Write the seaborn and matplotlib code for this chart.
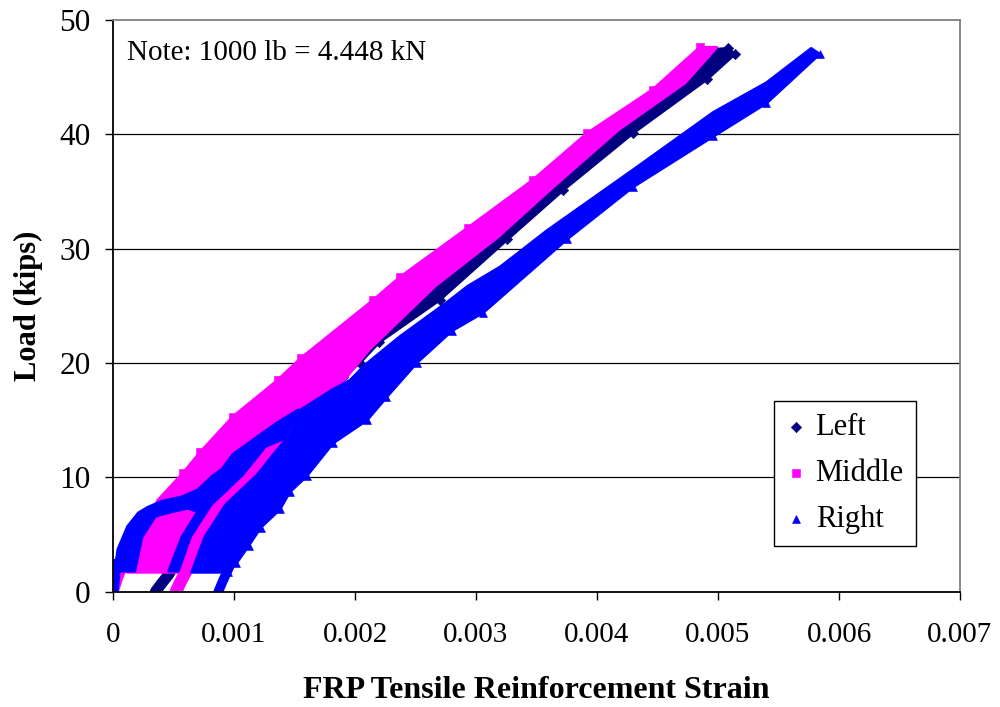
import matplotlib
matplotlib.use("Agg")
import matplotlib.pyplot as plt
import seaborn as sns
import numpy as np

# ---------------- data (strain, load in kips) ----------------
series_names = ["Left", "Middle", "Right"]
series_colors = {"Left": "#000080", "Middle": "#FF00FF", "Right": "#0000FF"}
series_markers = {"Left": "D", "Middle": "s", "Right": "^"}

# Left (navy) band: upper-left edge and lower-right edge
left_edge_l_strain = [0.00190, 0.00205, 0.00258, 0.00310, 0.00358, 0.00412, 0.00470, 0.00494]
left_edge_l_load = [19.5, 21.0, 26.5, 31.0, 35.4, 40.4, 44.5, 47.4]
left_edge_r_strain = [0.00508, 0.00514, 0.00491, 0.00430, 0.00372, 0.00326, 0.00270, 0.00220, 0.00204, 0.00190]
left_edge_r_load = [47.5, 47.0, 44.8, 40.1, 35.1, 30.8, 25.5, 21.8, 20.0, 18.8]
left_tail_strain = [0.00035, 0.00040, 0.00046, 0.00052]
left_tail_load = [0.0, 0.7, 1.5, 2.6]

# Middle (magenta) band
mid_edge_l_strain = [0.00012, 0.00018, 0.00024, 0.00030, 0.00037, 0.00058, 0.00072, 0.00099,
                     0.00136, 0.00155, 0.00215, 0.00237, 0.00293, 0.00347, 0.00392, 0.00446, 0.00485]
mid_edge_l_load = [1.7, 3.5, 5.0, 6.5, 8.0, 10.4, 12.2, 15.3, 18.5, 20.4, 25.5, 27.5, 31.8, 36.0,
                   40.1, 43.9, 47.6]
mid_edge_r_strain = [0.00499, 0.00473, 0.00418, 0.00364, 0.00318, 0.00266, 0.00212, 0.00188,
                     0.00163, 0.00145, 0.00138, 0.00119, 0.00093, 0.00076, 0.00065]
mid_edge_r_load = [47.6, 44.5, 40.4, 35.4, 31.0, 26.7, 21.2, 18.1, 15.5, 13.5, 12.7, 10.2, 7.6, 4.8, 1.7]
mid_tail_strain = [0.00052, 0.00056, 0.00061, 0.00065]
mid_tail_load = [0.0, 0.9, 1.9, 2.8]
mid_start_strain = [0.00001, 0.00004, 0.00008]
mid_start_load = [0.3, 1.3, 2.3]

# Right (blue): first-loading strip (outline) and main band
right_strip_strain = [0.00002, 0.00004, 0.00012, 0.00021, 0.00029, 0.00040, 0.00057, 0.00070,
                      0.00082, 0.00090, 0.00099, 0.00116, 0.00136, 0.00153, 0.00142, 0.00126,
                      0.00107, 0.00081, 0.00064, 0.00054, 0.00046, 0.00057, 0.00070, 0.00062,
                      0.00049, 0.00035, 0.00024, 0.00018, 0.00003]
right_strip_load = [2.2, 3.7, 5.7, 6.9, 7.4, 7.9, 8.3, 8.9, 10.1, 10.7, 12.0, 13.3, 14.8, 15.9,
                    13.4, 12.7, 10.2, 7.6, 4.8, 1.8, 1.8, 4.8, 7.0, 7.3, 7.0, 6.6, 4.8, 1.8, 1.8]
right_edge_l_strain = [0.00065, 0.00076, 0.00093, 0.00119, 0.00138, 0.00145, 0.00155, 0.00182,
                       0.00196, 0.00208, 0.00237, 0.00276, 0.00293, 0.00320, 0.00359, 0.00430,
                       0.00496, 0.00540, 0.00577]
right_edge_l_load = [1.7, 4.8, 7.6, 10.2, 12.7, 13.5, 15.9, 17.7, 18.5, 19.8, 22.3, 25.3, 26.7,
                     28.4, 31.6, 36.9, 41.9, 44.5, 47.5]
right_edge_r_strain = [0.00584, 0.00540, 0.00496, 0.00430, 0.00375, 0.00306, 0.00280, 0.00251,
                       0.00226, 0.00210, 0.00182, 0.00160, 0.00146, 0.00138, 0.00122, 0.00112,
                       0.00102, 0.00095]
right_edge_r_load = [47.0, 42.7, 39.8, 35.4, 30.8, 24.4, 22.8, 20.0, 17.0, 15.0, 13.0, 10.1, 8.7,
                     7.2, 5.6, 4.0, 2.5, 1.7]
right_tail_strain = [0.00087, 0.00091, 0.00098, 0.00106, 0.00112]
right_tail_load = [0.0, 1.0, 2.6, 3.9, 4.8]
right_start_strain = [0.0, 0.00001, 0.00002]
right_start_load = [0.0, 1.0, 2.4]

x_ticks = [0, 0.001, 0.002, 0.003, 0.004, 0.005, 0.006, 0.007]
x_tick_labels = ["0", "0.001", "0.002", "0.003", "0.004", "0.005", "0.006", "0.007"]
y_ticks = [0, 10, 20, 30, 40, 50]
x_title = "FRP Tensile Reinforcement Strain"
y_title = "Load (kips)"
note_text = "Note: 1000 lb = 4.448 kN"

# ---------------- figure ----------------
sns.set_theme(style="white")
plt.rcParams["font.family"] = ["Liberation Serif", "DejaVu Serif"]
plt.rcParams["text.color"] = "black"
plt.rcParams["axes.labelcolor"] = "black"

fig = plt.figure(figsize=(10, 7.07), dpi=100)
ax = fig.add_axes([0.113, 0.163, 0.847, 0.809])


def band(ax, sl, ll, sr, lr, color, z):
    xs = list(sl) + list(sr)
    ys = list(ll) + list(lr)
    ax.fill(xs, ys, color=color, lw=2.0, ec=color, zorder=z, joinstyle="round")


def strip(ax, s, l, color, lw, z):
    sns.lineplot(x=s, y=l, ax=ax, color=color, lw=lw, sort=False, legend=False,
                 estimator=None, solid_capstyle="round", zorder=z)


# Left
c = series_colors["Left"]
band(ax, left_edge_l_strain, left_edge_l_load, left_edge_r_strain, left_edge_r_load, c, 2)
strip(ax, left_tail_strain, left_tail_load, c, 8, 2)
sns.scatterplot(x=left_edge_r_strain, y=left_edge_r_load, ax=ax, color=c, marker="D", s=28,
                edgecolor=c, label="Left", zorder=2.5)
# Middle
c = series_colors["Middle"]
band(ax, mid_edge_l_strain, mid_edge_l_load, mid_edge_r_strain, mid_edge_r_load, c, 3)
strip(ax, mid_tail_strain, mid_tail_load, c, 9, 3)
strip(ax, mid_start_strain, mid_start_load, c, 8, 3)
sns.scatterplot(x=mid_edge_l_strain[5:], y=mid_edge_l_load[5:], ax=ax, color=c, marker="s", s=28,
                edgecolor=c, label="Middle", zorder=3.5)
# Right
c = series_colors["Right"]
ax.fill(right_strip_strain, right_strip_load, color=c, lw=2.0, ec=c, zorder=4, joinstyle="round")
band(ax, right_edge_l_strain, right_edge_l_load, right_edge_r_strain, right_edge_r_load, c, 4)
strip(ax, right_tail_strain, right_tail_load, c, 7, 4)
strip(ax, right_start_strain, right_start_load, c, 8, 4)
sns.scatterplot(x=right_edge_r_strain, y=right_edge_r_load, ax=ax, color=c, marker="^", s=32,
                edgecolor=c, label="Right", zorder=4.5)

# axes styling
ax.set_xlim(0, 0.007)
ax.set_ylim(0, 50)
ax.set_xticks(x_ticks)
ax.set_xticklabels(x_tick_labels)
ax.set_yticks(y_ticks)
ax.set_yticklabels([str(v) for v in y_ticks])
ax.tick_params(axis="both", direction="out", length=6, width=1.0, color="black",
               labelcolor="black")
ax.tick_params(axis="x", pad=16, bottom=True, labelsize=21)
ax.tick_params(axis="y", pad=10, left=True, labelsize=22.5)
ax.grid(False)
for yv in y_ticks[1:-1]:
    ax.axhline(yv, color="black", lw=0.9, zorder=1)
for side in ["left", "bottom"]:
    ax.spines[side].set_color("black")
    ax.spines[side].set_linewidth(1.3)
for side in ["top", "right"]:
    ax.spines[side].set_color("#808080")
    ax.spines[side].set_linewidth(1.3)
for sp in ax.spines.values():
    sp.set_zorder(6)

ax.set_xlabel(x_title, fontsize=23, fontweight="bold", labelpad=20, color="black")
ax.set_ylabel(y_title, fontsize=22, fontweight="bold", labelpad=12, color="black")

ax.text(0.017, 0.942, note_text, transform=ax.transAxes, fontsize=21, va="center", ha="left",
        color="black", zorder=7)

leg = ax.legend(loc="lower right", bbox_to_anchor=(0.948, 0.080), borderaxespad=0.0,
                fontsize=22, frameon=True, fancybox=False, edgecolor="black", framealpha=1,
                handlelength=0.6, handletextpad=0.35, labelspacing=0.55, borderpad=0.4,
                markerscale=1.0, labelcolor="black")
leg.get_frame().set_linewidth(1.0)
leg.set_zorder(8)

fig.savefig("out.png", dpi=100, facecolor="white")
